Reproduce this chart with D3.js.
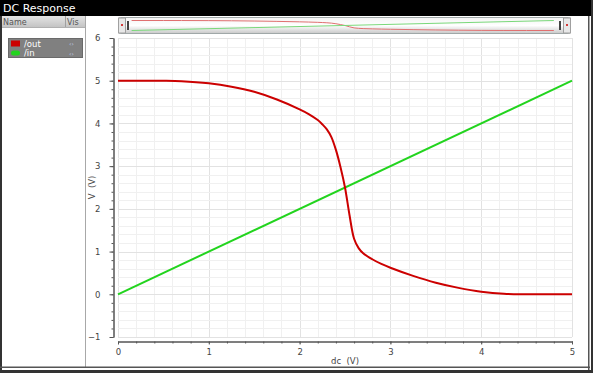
<!DOCTYPE html>
<html>
<head>
<meta charset="utf-8">
<script src="https://cdn.jsdelivr.net/npm/d3@7"></script>
<style>
  body { margin: 0; background: #fff; }
  svg { display: block; font-family: "DejaVu Sans", sans-serif; }
</style>
</head>
<body>
<div class="chart"></div>
<script>
// sweep values
const outSweep = [0, 0.5, 0.7, 1.0, 1.25, 1.5, 1.75, 2.0, 2.1, 2.2, 2.25, 2.3, 2.35, 2.4, 2.45, 2.5,
    2.55, 2.6, 2.65, 2.7, 2.8, 2.9, 3.0, 3.25, 3.5, 3.75, 4.0, 4.25, 4.5, 5.0];
const vOut = [5.0, 5.0, 4.99, 4.94, 4.86, 4.74, 4.56, 4.33, 4.22, 4.08, 3.98, 3.86, 3.68, 3.38, 2.98, 2.5,
    1.85, 1.3, 1.08, 0.96, 0.82, 0.71, 0.62, 0.43, 0.27, 0.15, 0.06, 0.01, 0, 0];
const inSweep = [0, 5];
const vIn = [0, 5];

const series = [
    {name: "/out", color: "#cc0000", xs: outSweep, ys: vOut},
    {name: "/in", color: "#22d41e", xs: inSweep, ys: vIn}
];
const xTicks = [0, 1, 2, 3, 4, 5];
const yTicks = [-1, 0, 1, 2, 3, 4, 5, 6];

const width = 593, height = 373;

const svg = d3.select(".chart")
    .append("svg")
    .attr("width", width)
    .attr("height", height);

const xScale = d3.scaleLinear().domain([0, 5]).range([118, 572]);
const yScale = d3.scaleLinear().domain([-1, 6]).range([337, 38]);

// title bar
svg.append("rect").attr("x", 0).attr("y", 0).attr("width", width).attr("height", 16).attr("fill", "#000");
svg.append("text")
    .attr("x", 3).attr("y", 12)
    .attr("fill", "#fff")
    .attr("font-size", 11)
    .text("DC Response");

// left panel
const hdr = svg.append("defs").append("linearGradient")
    .attr("id", "hdr").attr("x1", 0).attr("x2", 0).attr("y1", 0).attr("y2", 1);
hdr.append("stop").attr("offset", 0).attr("stop-color", "#e4e4e4");
hdr.append("stop").attr("offset", 1).attr("stop-color", "#c4c4c4");
svg.append("rect").attr("x", 2).attr("y", 16).attr("width", 83).attr("height", 11).attr("fill", "url(#hdr)");
svg.append("line").attr("x1", 2).attr("x2", 85).attr("y1", 27.5).attr("y2", 27.5).attr("stroke", "#b0b0b0");
svg.append("line").attr("x1", 65.5).attr("x2", 65.5).attr("y1", 16).attr("y2", 27).attr("stroke", "#a0a0a0");
svg.append("text").attr("x", 3).attr("y", 24.5).attr("font-size", 8).attr("fill", "#555").text("Name");
svg.append("text").attr("x", 67).attr("y", 24.5).attr("font-size", 8).attr("fill", "#555").text("Vis");
svg.append("line").attr("x1", 85.5).attr("x2", 85.5).attr("y1", 16).attr("y2", 367).attr("stroke", "#a8a8a8");
svg.append("rect").attr("x", 0).attr("y", 16).attr("width", 2).attr("height", 357).attr("fill", "#333");

const legend = svg.append("g");
legend.append("rect")
    .attr("x", 8.5).attr("y", 38.5).attr("width", 74).attr("height", 19)
    .attr("fill", "#808080").attr("stroke", "#6a6a6a");
const row = legend.selectAll("g.row")
    .data(series)
    .join("g")
    .attr("class", "row")
    .attr("transform", (d, i) => `translate(0,${43.5 + i * 9.5})`);
row.append("rect")
    .attr("x", 11).attr("y", d => d.name === "/in" ? -2.5 : -3)
    .attr("width", 9).attr("height", d => d.name === "/in" ? 5 : 6)
    .attr("rx", d => d.name === "/in" ? 2.5 : 0)
    .attr("fill", d => d.color);
row.append("text")
    .attr("x", 24).attr("y", 3)
    .attr("font-size", 8.5)
    .attr("fill", "#fff")
    .text(d => d.name);
row.append("text")
    .attr("x", 69).attr("y", 2.5)
    .attr("font-size", 6)
    .attr("fill", "#c8d8f0")
    .text("‹›");

// overview strip
const ov = svg.append("g");
const ovGrad = svg.select("defs").append("linearGradient")
    .attr("id", "ov").attr("x1", 0).attr("x2", 0).attr("y1", 0).attr("y2", 1);
ovGrad.append("stop").attr("offset", 0).attr("stop-color", "#f4f4f4");
ovGrad.append("stop").attr("offset", 0.5).attr("stop-color", "#ffffff");
ovGrad.append("stop").attr("offset", 1).attr("stop-color", "#c8c8c8");
ov.append("rect")
    .attr("x", 118.5).attr("y", 17.5).attr("width", 452).attr("height", 16).attr("rx", 2)
    .attr("fill", "url(#ov)").attr("stroke", "#a0a8a8");
ov.selectAll("rect.btn")
    .data([118.5, 563.5])
    .join("rect")
    .attr("class", "btn")
    .attr("x", d => d).attr("y", 18).attr("width", 7).attr("height", 15)
    .attr("fill", "#e8e8e8").attr("stroke", "#a0a0a0");
ov.selectAll("circle.dot")
    .data([122, 567])
    .join("circle")
    .attr("cx", d => d).attr("cy", 25).attr("r", 1)
    .attr("fill", "#cc0000");
ov.selectAll("rect.grip")
    .data([127, 559])
    .join("rect")
    .attr("class", "grip")
    .attr("x", d => d).attr("y", 21).attr("width", 2).attr("height", 9)
    .attr("fill", "#444");
const ovY = d3.scaleLinear().domain([0, 5]).range([30.5, 20.5]);
const ovLine = d3.line()
    .curve(d3.curveMonotoneX)
    .x(d => xScale(d[0]))
    .y(d => ovY(d[1]));
ov.selectAll("path")
    .data(series)
    .join("path")
    .attr("fill", "none")
    .attr("stroke", d => d.name === "/out" ? "#e07070" : "#7ad87a")
    .attr("stroke-width", 1)
    .attr("d", d => ovLine(d3.zip(d.xs, d.ys).map(p => [Math.min(4.8, Math.max(0.15, p[0])), p[1]])));

// grid
const grid = svg.append("g");
const xMinor = d3.range(0, 5.001, 0.2);
const yMinor = d3.range(-1, 6.001, 0.2);
grid.selectAll("line.gx")
    .data(xMinor)
    .join("line")
    .attr("x1", d => Math.round(xScale(d)) + 0.5).attr("x2", d => Math.round(xScale(d)) + 0.5)
    .attr("y1", yScale(6)).attr("y2", yScale(-1))
    .attr("stroke", (d, i) => i % 5 === 0 ? "#e2e2e2" : "#f0f0f0");
grid.selectAll("line.gy")
    .data(yMinor)
    .join("line")
    .attr("y1", d => Math.round(yScale(d)) + 0.5).attr("y2", d => Math.round(yScale(d)) + 0.5)
    .attr("x1", xScale(0)).attr("x2", xScale(5))
    .attr("stroke", (d, i) => i % 5 === 0 ? "#e2e2e2" : "#f0f0f0");

// axes
const tickStyle = g => g
    .call(g => g.select(".domain").attr("stroke", "#555"))
    .call(g => g.selectAll(".tick line").attr("stroke", "#555"))
    .call(g => g.selectAll(".tick text").attr("fill", "#444").attr("font-size", 8.5)
        .attr("font-family", "DejaVu Sans, sans-serif"));

svg.append("g")
    .attr("transform", "translate(113.5,0)")
    .call(d3.axisLeft(yScale).tickValues(yMinor).tickSize(2).tickFormat("").tickSizeOuter(0))
    .call(tickStyle);
svg.append("g")
    .attr("transform", "translate(113.5,0)")
    .call(d3.axisLeft(yScale).tickValues(yTicks).tickSize(4).tickPadding(9).tickSizeOuter(0)
        .tickFormat(d => d < 0 ? "\u2212" + Math.abs(d) : d))
    .call(tickStyle);

svg.append("g")
    .attr("transform", "translate(0,341.5)")
    .call(d3.axisBottom(xScale).tickValues(xMinor).tickSize(2).tickFormat("").tickSizeOuter(0))
    .call(tickStyle);
svg.append("g")
    .attr("transform", "translate(0,341.5)")
    .call(d3.axisBottom(xScale).tickValues(xTicks).tickSize(3).tickPadding(4).tickSizeOuter(0)
        .tickFormat(d3.format("d")))
    .call(tickStyle);

svg.append("text")
    .attr("x", xScale(2.5)).attr("y", 364)
    .attr("text-anchor", "middle")
    .attr("font-size", 8.5)
    .attr("fill", "#444")
    .attr("xml:space", "preserve")
    .text("dc  (V)");
svg.append("text")
    .attr("transform", `translate(95,${yScale(2.5)}) rotate(-90)`)
    .attr("text-anchor", "middle")
    .attr("font-size", 8.5)
    .attr("fill", "#444")
    .attr("xml:space", "preserve")
    .text("V  (V)");

// traces
const line = d3.line()
    .curve(d3.curveCatmullRom.alpha(0.5))
    .x(d => xScale(d[0]))
    .y(d => yScale(d[1]));
svg.append("g")
    .selectAll("path")
    .data(series.slice().reverse())
    .join("path")
    .attr("fill", "none")
    .attr("stroke", d => d.color)
    .attr("stroke-width", 2)
    .attr("stroke-linejoin", "round")
    .attr("d", d => line(d3.zip(d.xs, d.ys)));

// frame
svg.append("rect").attr("x", 588).attr("y", 16).attr("width", 1.5).attr("height", 357).attr("fill", "#555");
svg.append("rect").attr("x", 591).attr("y", 0).attr("width", 2).attr("height", 373).attr("fill", "#333");
svg.append("rect").attr("x", 0).attr("y", 366.5).attr("width", 590).attr("height", 1.5).attr("fill", "#555");
svg.append("rect").attr("x", 0).attr("y", 370).attr("width", 593).attr("height", 3).attr("fill", "#333");
</script>
</body>
</html>
